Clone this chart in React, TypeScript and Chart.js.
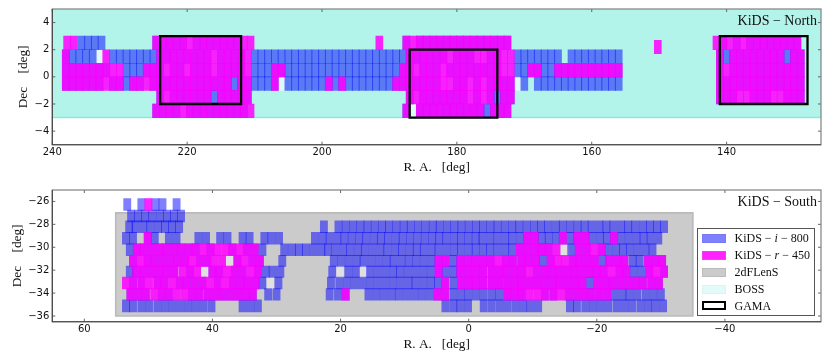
import React, { useEffect, useRef } from "react";
import { Chart, registerables } from "chart.js";

Chart.register(...registerables);

// ---------- North: tiles per declination row. i = blue only, both = r over i, r = r only, holes = pale gaps
const nDec2I = [235.7, 234.7, 233.7, 232.7];
const nDec2Both = [224.6, 223.6, 222.6, 221.6, 220.6, 218.6, 217.6, 216.6, 215.6, 214.6, 213.6, 212.6, 187.5, 185.5, 184.5, 183.5, 182.5, 181.5, 180.5, 179.5, 178.5, 177.5, 176.5, 175.5, 174.5, 173.5, 172.5, 140.5, 138.5, 136.5, 135.5, 134.5, 133.5, 132.5, 131.5, 130.5, 129.5];
const nDec2R = [237.8, 236.8, 219.6, 211.6, 210.6, 191.5, 186.5, 141.5, 139.5, 137.5];

const nDec1I = [237, 236, 235, 234, 231, 230, 229, 228, 227, 226, 225, 210, 209, 208, 207, 206, 205, 204, 203, 202, 201, 200, 199, 198, 197, 196, 195, 194, 193, 192, 191, 190, 189, 188, 171, 170, 169, 168, 167, 166, 165, 163, 162, 161, 160, 159, 158, 157, 156, 140, 131];
const nDec1Both = [238, 224, 223, 222, 221, 220, 219, 218, 217, 215, 214, 213, 212, 187, 186, 185, 184, 183, 182, 180, 179, 178, 175, 174, 141, 139, 138, 137, 136, 135, 134, 133, 132, 130, 129];
const nDec1R = [232, 216, 211, 181, 177, 176, 173, 172];
const nDec1Holes = [233];

const nDec0I = [229, 228, 227, 210, 209, 208, 205, 204, 203, 202, 201, 200, 199, 198, 197, 196, 195, 194, 193, 192, 191, 190, 189, 171, 170, 167, 166];
const nDec0Both = [238, 237, 236, 235, 234, 233, 232, 226, 225, 224, 222, 221, 219, 218, 217, 215, 214, 213, 212, 207, 206, 188, 187, 185, 184, 183, 181, 180, 179, 178, 177, 176, 175, 174, 169, 168, 165, 164, 163, 162, 161, 160, 159, 158, 157, 156, 141, 139, 138, 137, 136, 135, 134, 133, 132, 131, 130, 129];
const nDec0R = [231, 230, 223, 220, 216, 211, 186, 182, 173, 172, 140];

const nDecM1I = [229, 213, 210, 209, 208, 205, 204, 203, 202, 201, 200, 198, 196, 195, 194, 193, 192, 191, 190, 170, 168, 167, 166, 165, 164, 163, 162, 161, 160, 159, 158, 157, 156];
const nDecM1Both = [238, 237, 236, 235, 234, 233, 231, 230, 228, 227, 225, 224, 223, 222, 221, 220, 219, 218, 217, 216, 215, 214, 212, 211, 207, 199, 197, 189, 188, 187, 186, 185, 184, 183, 180, 179, 177, 175, 174, 173, 172, 141, 140, 139, 138, 137, 136, 135, 134, 133, 132, 131, 130, 129];
const nDecM1R = [232, 226, 182, 181, 178, 176];
const nDecM1Holes = [206, 171];

const nDecM2I = [216, 174];
const nDecM2Both = [224, 222, 221, 220, 219, 218, 217, 215, 214, 213, 212, 211, 187, 185, 184, 183, 182, 181, 180, 179, 177, 175, 173, 172, 141, 140, 139, 136, 135, 134, 131, 130, 129];
const nDecM2R = [223, 186, 178, 176, 138, 137, 133, 132];

const nDecM3I = [175.5];
const nDecM3Both = [224.6, 223.6, 222.6, 221.6, 219.6, 218.6, 217.6, 216.6, 215.6, 214.6, 213.6, 212.6, 211.6, 187.5, 185.5, 184.5, 183.5, 182.5, 181.5, 180.5, 179.5, 178.5, 177.5, 176.5, 174.5, 173.5, 172.5];
const nDecM3R = [220.6, 210.6];
const nDecM3Holes = [186.5];

const nExtraR = [150.2];

// ---------- South rows, top to bottom
const s1I = [53.3, 51.1, 48.9, 47.8, 45.6];
const s1R = [50.0];

const s2I = [52.7, 51.6, 50.5, 49.4, 48.2, 47.1, 46.0, 44.9];

const s3I = [53.0, 52.0, 50.8, 49.7, 48.5, 47.4, 46.3, 45.2, 22.6, 20.33, 19.19, 18.04, 16.9, 15.8, 14.66, 13.52, 12.42, 11.28, 10.14, 9.04, 7.9, 6.75, 5.6, 4.52, 3.37, 2.23, 1.13, -0.01, -1.15, -2.25, -3.4, -4.5, -5.65, -6.8, -7.9, -9.05, -10.2, -11.3, -12.4, -13.6, -14.7, -15.85, -17, -18.1, -19.2, -20.4, -21.5, -22.6, -23.8, -24.9, -26, -27.2, -28.3, -29.4, -30.5];

const s4I = [53.5, 52.4, 49.0, 46.8, 45.6, 42.2, 41.0, 38.8, 37.65, 35.3, 34.2, 31.9, 30.8, 29.6, 24, 22.8, 21.7, 20.5, 19.4, 18.25, 17.1, 16, 14.8, 13.7, 12.6, 11.4, 10.3, 9.15, 8, 6.85, 5.7, 4.6, 3.5, 2.3, 1.2, 0.05, -1.1, -2.15, -3.35, -4.5, -5.7, -6.8, -8, -11.4, -12.5, -13.65, -15.9, -19.3, -20.5, -21.6, -23.8, -25, -26.2, -27.3, -28.4, -29.6];
const s4Both = [50.1, -9.1, -10.3, -14.7, -17, -18.2, -22.7];

const s5I = [52.9, 32.2, 28.8, 27.6, 26.5, 25.4, 24.2, 23, 21.95, 20.8, 19.6, 18.5, 17.3, 16.2, 15, 13.8, 12.7, 11.5, 10.4, 9.2, 8.1, 7, 5.8, 4.7, 3.5, 2.3, 1.2, 0, -1.1, -2.25, -3.35, -4.5, -5.7, -6.8, -16.0, -21.8, -23, -24.1, -25.2, -26.4, -27.6, -28.7];
const s5Both = [51.8, 50.7, 49.5, 48.3, 47.2, 46, 44.9, 43.7, 42.6, 40.3, 36.9, 34.6, 33.4, -8, -9.1, -10.3, -11.4, -12.5, -17.2, -18.4, -20.7];
const s5R = [41.45, 39.2, 38, 35.75, -13.7, -19.5];
const s5Holes = [-15];

const s6I = [29.1, 21.06, 19.9, 18.7, 17.5, 16.4, 15.2, 14, 12.8, 11.7, 10.5, 9.35, 8.2, 7, 5.8, 2.4, -11.6, -20.9, -25.6, -26.7];
const s6Both = [52.4, 50.1, 49, 47.8, 46.6, 45.5, 44.3, 42, 40.8, 36.1, 33.8, 32.6, 4.7, 3.6, 1.3, 0.1, -1.05, -2.25, -3.45, -5.8, -6.9, -8.2, -9.3, -10.5, -12.8, -16.2, -17.3, -18.5, -19.7, -22, -23.2, -24.3, -28, -29.1, -30.2];
const s6R = [51.2, 43.2, 39.7, 38.5, 35, -4.6, -13.9, -15];
const s6Holes = [37.3];

const s7I = [52.9, 31.7, 30.6, 29.4, 21.3, 18.8, 17.6, 15.4, 14.2, 13, 11.8, 10.7, 9.5, 8.3, 7.1, 5.9, 3.6, 2.4, -25.8, -27];
const s7Both = [51.9, 50.7, 49.5, 48.3, 47.2, 46, 43.5, 40, 38.9, 36.5, 35.3, 32.9, 4.7, 1.3, 0.1, -1.1, -2.25, -3.55, -4.75, -5.9, -7.1, -8.3, -10.6, -11.8, -13, -14.1, -15.3, -16.45, -17.6, -18.8, -20, -21.1, -23.5, -24.6, -28.2, -30.5];
const s7R = [44.7, 42.4, 37.7, 34.1, -9.4, -22.3, -29.3];
const s7Holes = [41.2, 20.1, 16.5];

const s8I = [32.2, 29.7, 21.5, 20.2, 19, 17.8, 16.6, 15.4, 14.2, 13, 11.8, 10.6, 9.4, 8.3, 7.1, 5.9, 4.8, 2.4, -18.95];
const s8Both = [52.4, 51.1, 48.6, 47.5, 45.1, 44, 42.8, 41.6, 39.2, 36.8, 35.6, 34.5, 33.3, 3.7, 1.2, 0, -1.1, -2.25, -3.55, -4.75, -6, -7.2, -8.3, -9.5, -10.7, -11.9, -13.1, -14.2, -15.4, -16.6, -17.75, -20.15, -21.35, -22.5, -23.7, -24.9, -26.1, -27.2, -28.5, -29.7];
const s8R = [53.5, 49.9, 46.3, 40.4, 38];
const s8Holes = [31];

const s9I = [31.3, 30, 21.7, 20.4, 15.65, 14.45, 13.25, 12.05, 10.9, 9.7, 8.5, 7.3, 6.1, 2.4, 1.2, 0.05, -1.15, -2.35, -3.6, -4.75, -22.8, -24, -25.1, -26.3, -27.6, -28.8, -30];
const s9Both = [52.8, 51.6, 50.4, 47.9, 46.8, 43.2, 42.1, 40.8, 39.6, 38.4, 37.2, 36, 34.8, 33.7, 19.2, 4.9, 3.7, -6, -7.2, -8.3, -11.9, -13.2, -15.6, -16.8, -18, -19.1, -20.35, -21.6];
const s9R = [49.1, 45.6, 44.4, -9.5, -10.7, -14.4];

const s10I = [53.5, 52.4, 51.1, 49.9, 48.6, 47.4, 46.2, 45, 43.8, 42.6, 41.4, 40.15, 35.3, 34.1, 32.9, 3.63, 2.4, 1.3, 0.1, -2.35, -3.6, -4.85, -6.05, -7.3, -8.5, -9.65, -10.85, -15.8, -16.9, -18.2, -19.4, -20.6, -21.8, -23.1, -24.3, -25.5, -26.8, -28, -29.15, -30.35];

// ---------- Regions and axis ticks
const gamaG15 = { ra: [224, 212], dec: [-2, 3] };
const gamaG12 = { ra: [187, 174], dec: [-3, 2] };
const gamaG09 = { ra: [141, 128], dec: [-2, 3] };
const bossNorthRa = [240, 126];
const bossNorthDec = [-3, 5];
const twoDfRa = [55.1, -35];
const twoDfDec = [-36, -27];

const northXTicks = [240, 220, 200, 180, 160, 140];
const northYTicks = [-4, -2, 0, 2, 4];
const southXTicks = [60, 40, 20, 0, -20, -40];
const southYTicks = [-36, -34, -32, -30, -28, -26];

const legendLabels = ["KiDS", "2dFLenS", "BOSS", "GAMA"];

type Row = { low: number; high: number; i?: number[]; both?: number[]; r?: number[]; holes?: number[] };

const northRows: Row[] = [
  { low: 2, high: 3, i: nDec2I, both: nDec2Both, r: nDec2R },
  { low: 1, high: 2, i: nDec1I, both: nDec1Both, r: nDec1R, holes: nDec1Holes },
  { low: 0, high: 1, i: nDec0I, both: nDec0Both, r: nDec0R },
  { low: -1, high: 0, i: nDecM1I, both: nDecM1Both, r: nDecM1R, holes: nDecM1Holes },
  { low: -2, high: -1, i: nDecM2I, both: nDecM2Both, r: nDecM2R },
  { low: -3, high: -2, i: nDecM3I, both: nDecM3Both, r: nDecM3R, holes: nDecM3Holes },
  { low: 1.7, high: 2.7, r: nExtraR },
];

const southRows: Row[] = [
  { low: -26.78, high: -25.75, i: s1I, r: s1R },
  { low: -27.78, high: -26.75, i: s2I },
  { low: -28.73, high: -27.7, i: s3I },
  { low: -29.73, high: -28.7, i: s4I, both: s4Both },
  { low: -30.73, high: -29.7, i: s5I, both: s5Both, r: s5R, holes: s5Holes },
  { low: -31.68, high: -30.7, i: s6I, both: s6Both, r: s6R, holes: s6Holes },
  { low: -32.63, high: -31.65, i: s7I, both: s7Both, r: s7R, holes: s7Holes },
  { low: -33.63, high: -32.6, i: s8I, both: s8Both, r: s8R, holes: s8Holes },
  { low: -34.63, high: -33.6, i: s9I, both: s9Both, r: s9R },
  { low: -35.65, high: -34.6, i: s10I },
];

const BLUE = "rgba(0,0,255,0.5)";
const MAGENTA = "rgba(255,0,255,0.86)";
const TICK_FONT = "'DejaVu Sans'";
const SERIF = "'Liberation Serif', 'DejaVu Serif', serif";

function bars(rows: Row[], pick: (r: Row) => number[]) {
  return rows.flatMap((row) => pick(row).map((x) => ({ x, y: [row.low, row.high] })));
}

function boxLine(b: { ra: number[]; dec: number[] }) {
  const [a, c] = b.ra;
  const [lo, hi] = b.dec;
  return [
    { x: a, y: hi },
    { x: c, y: hi },
    { x: c, y: lo },
    { x: a, y: lo },
    { x: a, y: hi },
    { x: c, y: hi },
  ];
}

const framePlugin = {
  id: "frame",
  afterDatasetsDraw(chart: any) {
    const { ctx, chartArea: a, scales } = chart;
    ctx.save();
    ctx.strokeStyle = "#555";
    ctx.lineWidth = 0.9;
    ctx.beginPath();
    for (const t of scales.x.ticks) {
      const px = scales.x.getPixelForValue(t.value);
      ctx.moveTo(px, a.top);
      ctx.lineTo(px, a.top + 3);
      ctx.moveTo(px, a.bottom);
      ctx.lineTo(px, a.bottom - 3);
    }
    for (const t of scales.y.ticks) {
      const py = scales.y.getPixelForValue(t.value);
      ctx.moveTo(a.left, py);
      ctx.lineTo(a.left + 3, py);
      ctx.moveTo(a.right, py);
      ctx.lineTo(a.right - 3, py);
    }
    ctx.stroke();
    ctx.strokeStyle = "#808080";
    ctx.lineWidth = 1.2;
    ctx.strokeRect(a.left, a.top, a.right - a.left, a.bottom - a.top);
    ctx.strokeStyle = "#444";
    ctx.lineWidth = 1.1;
    ctx.beginPath();
    ctx.moveTo(a.left, a.top);
    ctx.lineTo(a.left, a.bottom);
    ctx.lineTo(a.right, a.bottom);
    ctx.stroke();
    ctx.restore();
  },
};

function makeOptions(cfg: { xMin: number; xMax: number; yMin: number; yMax: number; xTicks: number[]; yTicks: number[]; top: number; xAxisH: number; titlePad: number; yTitlePad: number }) {
  const minus = (v: any) => String(v).replace("-", "\u2212");
  const setTicks = (values: number[]) => (s: any) => {
    s.ticks = values.map((value) => ({ value }));
  };
  return {
    responsive: false,
    animation: false as const,
    devicePixelRatio: 1,
    layout: { padding: { left: 0, right: 9, top: cfg.top, bottom: 0 } },
    plugins: { legend: { display: false }, tooltip: { enabled: false }, title: { display: false } },
    scales: {
      x: {
        type: "linear" as const,
        reverse: true,
        offset: false,
        min: cfg.xMin,
        max: cfg.xMax,
        grid: { display: false, drawTicks: false },
        border: { display: false },
        afterBuildTicks: setTicks(cfg.xTicks),
        afterFit: (s: any) => {
          s.height = cfg.xAxisH;
        },
        ticks: {
          autoSkip: false,
          maxRotation: 0,
          padding: 2,
          color: "#111",
          font: { family: TICK_FONT, size: 10 },
          callback: minus,
        },
        title: {
          display: true,
          text: "R. A.   [deg]",
          color: "#111",
          font: { family: SERIF, size: 13.3 },
          padding: { top: 0, bottom: cfg.titlePad },
        },
      },
      y: {
        type: "linear" as const,
        min: cfg.yMin,
        max: cfg.yMax,
        grid: { display: false, drawTicks: false },
        border: { display: false },
        afterBuildTicks: setTicks(cfg.yTicks),
        afterFit: (s: any) => {
          s.width = 52.3;
        },
        ticks: {
          autoSkip: false,
          padding: 3,
          color: "#111",
          font: { family: TICK_FONT, size: 10 },
          callback: minus,
        },
        title: {
          display: true,
          text: "Dec    [deg]",
          color: "#111",
          font: { family: SERIF, size: 13.3 },
          padding: cfg.yTitlePad,
        },
      },
    },
  };
}

function tileDatasets(rows: Row[], thickness: number, holeColor: string) {
  const common = { type: "bar" as const, barThickness: thickness, grouped: false, borderWidth: 0, order: 0 };
  return [
    { ...common, label: "KiDS-r-450", backgroundColor: MAGENTA, data: bars(rows, (r) => [...(r.both ?? []), ...(r.r ?? [])]) },
    { ...common, label: "KiDS-i-800", backgroundColor: BLUE, data: bars(rows, (r) => [...(r.i ?? []), ...(r.both ?? [])]) },
    { ...common, label: "holes", backgroundColor: holeColor, data: bars(rows, (r) => r.holes ?? []) },
  ];
}

const lineBase = { type: "line" as const, pointRadius: 0, tension: 0, borderJoinStyle: "miter" as const };

const swatch = (bg: string, border: string, bw = 1): React.CSSProperties => ({
  position: "absolute",
  left: 4,
  width: 24.3,
  height: 9,
  boxSizing: "border-box",
  background: bg,
  border: `${bw}px solid ${border}`,
});

export default function App() {
  const northRef = useRef<HTMLCanvasElement>(null);
  const southRef = useRef<HTMLCanvasElement>(null);

  useEffect(() => {
    const north = new Chart(northRef.current as HTMLCanvasElement, {
      type: "bar",
      plugins: [framePlugin],
      data: {
        datasets: [
          ...[gamaG15, gamaG12, gamaG09].map((b) => ({
            ...lineBase,
            label: legendLabels[3],
            data: boxLine(b),
            borderColor: "#000",
            borderWidth: 2.3,
            fill: false,
          })),
          ...tileDatasets(northRows, 7.0, "rgba(255,255,255,0.6)"),
          {
            ...lineBase,
            label: "BOSS edge",
            data: bossNorthRa.map((x) => ({ x, y: bossNorthDec[0] })),
            borderColor: "#8fe8dc",
            borderWidth: 1.6,
            fill: false,
          },
          {
            ...lineBase,
            label: legendLabels[2],
            data: bossNorthRa.map((x) => ({ x, y: bossNorthDec[1] })),
            borderWidth: 0,
            backgroundColor: "rgb(178,243,234)",
            fill: { value: bossNorthDec[0] },
          },
        ],
      } as any,
      options: makeOptions({ xMin: 126, xMax: 240, yMin: -5, yMax: 5, xTicks: northXTicks, yTicks: northYTicks, top: 9, xAxisH: 36.3, titlePad: 5.7, yTitlePad: 15.5 }) as any,
    });

    const south = new Chart(southRef.current as HTMLCanvasElement, {
      type: "bar",
      plugins: [framePlugin],
      data: {
        datasets: [
          ...tileDatasets(southRows, 7.2, "rgba(255,255,255,0.4)"),
          {
            ...lineBase,
            label: "2dFLenS edge",
            data: boxLine({ ra: twoDfRa, dec: twoDfDec }),
            borderColor: "#bababa",
            borderWidth: 1.6,
            fill: false,
          },
          {
            ...lineBase,
            label: legendLabels[1],
            data: twoDfRa.map((x) => ({ x, y: twoDfDec[1] })),
            borderWidth: 0,
            backgroundColor: "rgb(203,203,203)",
            fill: { value: twoDfDec[0] },
          },
        ],
      } as any,
      options: makeOptions({ xMin: -55, xMax: 65, yMin: -36.5, yMax: -25, xTicks: southXTicks, yTicks: southYTicks, top: 4.7, xAxisH: 41.3, titlePad: 11, yTitlePad: 10 }) as any,
    });

    return () => {
      north.destroy();
      south.destroy();
    };
  }, []);

  const serifText: React.CSSProperties = {
    position: "absolute",
    fontFamily: SERIF,
    color: "#111",
    whiteSpace: "pre",
    lineHeight: "14px",
  };
  const legendRows = [
    { y: 4.6, node: <>KiDS − <i>i</i> − 800</>, sw: swatch("#8080ff", "#7a7af0") },
    { y: 21.6, node: <>KiDS − <i>r</i> − 450</>, sw: swatch("#ff22ff", "#f040f0") },
    { y: 38.6, node: <>2dFLenS</>, sw: swatch("#cbcbcb", "#bbbbbb") },
    { y: 55.6, node: <>BOSS</>, sw: swatch("#e2fbf8", "#d5f7f2") },
    { y: 72.3, node: <>GAMA</>, sw: swatch("#ffffff", "#000000", 2) },
  ];

  return (
    <div style={{ position: "fixed", left: 0, top: 0, width: 830, height: 363, background: "#fff", overflow: "hidden" }}>
      <canvas ref={northRef} width={830} height={181} style={{ position: "absolute", left: 0, top: 0, display: "block" }} />
      <canvas ref={southRef} width={830} height={182} style={{ position: "absolute", left: 0, top: 181, display: "block" }} />
      <div style={{ ...serifText, right: 13, top: 14, fontSize: 14 }}>KiDS − North</div>
      <div style={{ ...serifText, right: 13, top: 195, fontSize: 14 }}>KiDS − South</div>
      <div
        style={{
          position: "absolute",
          left: 697,
          top: 228,
          width: 118,
          height: 88.4,
          boxSizing: "border-box",
          background: "#fff",
          border: "1.2px solid #555",
        }}
      >
        {legendRows.map((row, k) => (
          <React.Fragment key={k}>
            <div style={{ ...row.sw, top: row.y }} />
            <div style={{ ...serifText, left: 36.5, top: row.y - 2.5, fontSize: 12 }}>{row.node}</div>
          </React.Fragment>
        ))}
      </div>
    </div>
  );
}
